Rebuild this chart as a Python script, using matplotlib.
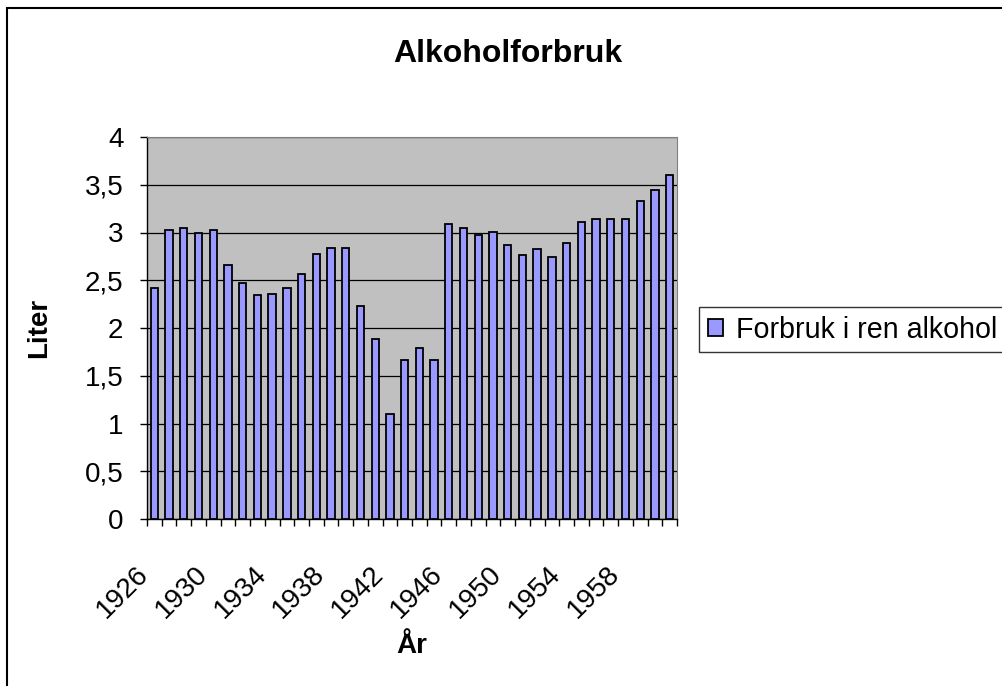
import numpy as np
import matplotlib
matplotlib.use('Agg')
from matplotlib import pyplot as plt
from matplotlib.patches import Rectangle
from matplotlib.transforms import ScaledTranslation

plt.rcParams['font.family'] = ['Liberation Sans', 'DejaVu Sans']

years = list(range(1926, 1962))
liters = [2.42, 3.03, 3.05, 2.99, 3.03, 2.66, 2.47, 2.35, 2.36, 2.42,
          2.57, 2.78, 2.84, 2.84, 2.23, 1.88, 1.10, 1.67, 1.79, 1.67,
          3.09, 3.05, 2.97, 3.01, 2.87, 2.76, 2.83, 2.74, 2.89, 3.11,
          3.14, 3.14, 3.14, 3.33, 3.45, 3.60]
y_ticks = [0, 0.5, 1, 1.5, 2, 2.5, 3, 3.5, 4]
y_ticklabels = ['0', '0,5', '1', '1,5', '2', '2,5', '3', '3,5', '4']
label_years = years[::4]

W, H = 1002, 686
fig = plt.figure(figsize=(W / 100, H / 100), dpi=100)
ax = fig.add_axes([147 / W, 1 - 519 / H, 530 / W, 382 / H])

x = np.arange(len(years))
ax.set_facecolor('#c0c0c0')
ax.bar(x, liters, width=0.5, color='#9999ff', edgecolor='black',
       linewidth=1.3, label='Forbruk i ren alkohol', zorder=3)

ax.set_xlim(-0.5, len(years) - 0.5)
ax.set_ylim(0, 4)
ax.set_yticks(y_ticks)
ax.set_yticklabels(y_ticklabels, fontsize=20)
ax.yaxis.grid(True, color='black', linewidth=0.9, zorder=1)
ax.set_axisbelow(True)

# ticks between categories, labels at category centres
ax.set_xticks(np.arange(-0.5, len(years), 1))
ax.set_xticklabels([])
lab_pos = [years.index(y) for y in label_years]
ax.set_xticks(lab_pos, minor=True)
ax.set_xticklabels([str(y) for y in label_years], minor=True, fontsize=20,
                   rotation=45, ha='right', va='top', rotation_mode='anchor')
ax.tick_params(axis='x', which='major', length=5, width=1, direction='out')
ax.tick_params(axis='x', which='minor', length=0, pad=24)
ax.tick_params(axis='y', length=5, width=1, direction='out', pad=12)
shift = ScaledTranslation(-0.19, -0.09, fig.dpi_scale_trans)
for lab in ax.get_xticklabels(minor=True):
    lab.set_transform(lab.get_transform() + shift)

for s in ['top', 'right']:
    ax.spines[s].set_color('#808080')
for s in ['left', 'bottom']:
    ax.spines[s].set_color('black')
    ax.spines[s].set_linewidth(1.0)

ax.set_ylabel('Liter', fontsize=20, fontweight='bold')
ax.yaxis.set_label_coords(-0.179, 0.5)
ax.set_xlabel('År', fontsize=20, fontweight='bold', va='top')
ax.xaxis.set_label_coords(0.5, -0.298)

fig.text(508 / W, 1 - 62 / H, 'Alkoholforbruk', fontsize=23,
         fontweight='bold', ha='center', va='baseline')

leg = fig.legend(loc='upper left', bbox_to_anchor=(699 / W, 1 - 307 / H),
                 fontsize=20.6, frameon=True, fancybox=False, borderaxespad=0,
                 handlelength=0.55, handleheight=0.55, handletextpad=0.45,
                 borderpad=0.3)
leg.get_frame().set_edgecolor('black')
leg.get_frame().set_linewidth(1.0)

fig.patches.append(Rectangle((7 / W, -0.1), 1.2, (H - 8) / H + 0.1,
                             transform=fig.transFigure, fill=False,
                             edgecolor='black', linewidth=1.5))

fig.savefig('out.png', dpi=100)
